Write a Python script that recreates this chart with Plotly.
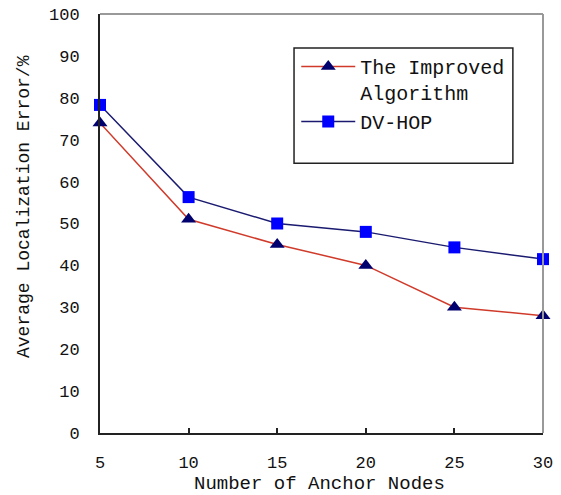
import plotly.graph_objects as go

anchor_nodes = [5, 10, 15, 20, 25, 30]
improved = [74, 51, 45, 40, 30, 28]
dvhop = [78.3, 56.3, 50, 48, 44.3, 41.5]
x_ticks = [5, 10, 15, 20, 25, 30]
y_ticks = [0, 10, 20, 30, 40, 50, 60, 70, 80, 90, 100]

FONT = "Liberation Mono"

fig = go.Figure()
fig.add_trace(go.Scatter(
    x=anchor_nodes, y=improved, mode="lines+markers",
    name="The Improved<br>Algorithm",
    line=dict(color="#d03a2a", width=1.5),
    marker=dict(symbol="triangle-up", size=13, color="#00006e"),
    cliponaxis=False,
))
fig.add_trace(go.Scatter(
    x=anchor_nodes, y=dvhop, mode="lines+markers",
    name="DV-HOP",
    line=dict(color="#1a1a70", width=1.5),
    marker=dict(symbol="square", size=12, color="#0000ff"),
    cliponaxis=False,
))

fig.update_layout(
    width=561, height=495,
    margin=dict(l=100, r=18, t=14, b=62, autoexpand=False),
    paper_bgcolor="white", plot_bgcolor="white",
    font=dict(family=FONT, color="#111111", size=17),
    showlegend=True,
    legend=dict(
        x=0.443, y=0.921, xanchor="left", yanchor="top",
        bgcolor="rgba(0,0,0,0)", borderwidth=0,
        font=dict(family=FONT, size=20, color="#111111"),
        valign="top", itemwidth=54,
    ),
    xaxis=dict(
        range=[5, 30], tickvals=x_ticks, ticktext=[str(v) for v in x_ticks],
        showgrid=False, zeroline=False, automargin=False,
        showline=True, linecolor="#222222", linewidth=2,
        ticks="inside", ticklen=5, tickcolor="#222222", tickwidth=1.5,
        ticklabelstandoff=13,
        tickfont=dict(family=FONT, size=17),
    ),
    yaxis=dict(
        range=[0, 100], tickvals=y_ticks, ticktext=[str(v) for v in y_ticks],
        showgrid=False, zeroline=False, automargin=False,
        showline=True, linecolor="#222222", linewidth=2,
        ticks="", ticklabelstandoff=15,
        tickfont=dict(family=FONT, size=17),
    ),
    annotations=[
        dict(text="Number of Anchor Nodes", xref="paper", yref="paper",
             x=(319 - 100) / 443, y=(433 - 484) / 419, xanchor="center", yanchor="middle",
             showarrow=False, font=dict(family=FONT, size=19, color="#111111")),
        dict(text="Average Localization Error/%", xref="paper", yref="paper",
             x=(24 - 100) / 443, y=(433 - 207) / 419, xanchor="center", yanchor="middle",
             textangle=-90, showarrow=False, font=dict(family=FONT, size=18, color="#111111")),
    ],
    shapes=[
        dict(type="line", xref="paper", yref="paper", x0=0, x1=1, y0=1, y1=1,
             line=dict(color="#999999", width=2)),
        dict(type="line", xref="paper", yref="paper", x0=1, x1=1, y0=0, y1=1,
             line=dict(color="#999999", width=2)),
        dict(type="rect", xref="paper", yref="paper", x0=0.438, x1=0.932, y0=0.644, y1=0.919,
             line=dict(color="#222222", width=1.5), fillcolor="rgba(0,0,0,0)"),
    ],
)

fig.write_html("out.html")
